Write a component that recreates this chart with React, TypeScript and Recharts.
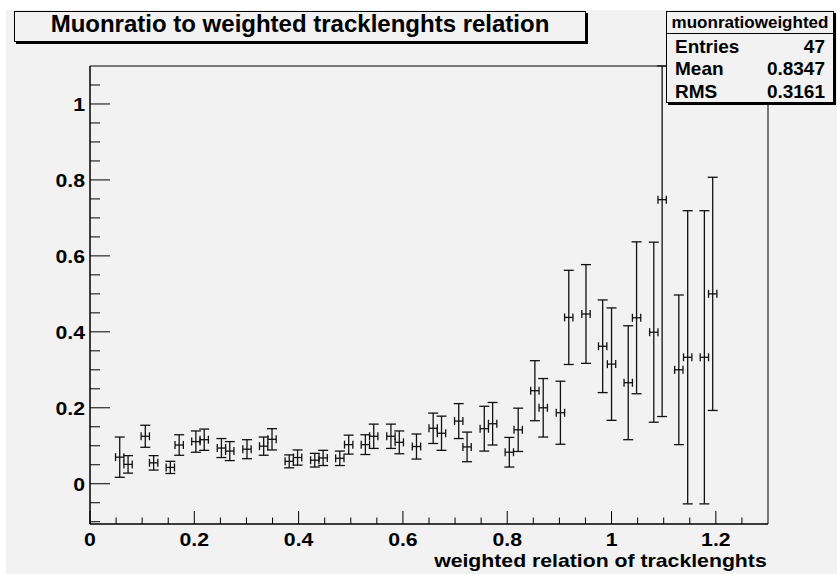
import React from 'react';
import { ComposedChart, Scatter, ErrorBar, XAxis, YAxis, ReferenceArea } from 'recharts';

// bin centres of the filled bins (weighted relation of tracklengths)
const binCenters = [
  0.057, 0.073, 0.106, 0.122, 0.154, 0.171, 0.203, 0.219, 0.252, 0.268,
  0.301, 0.333, 0.349, 0.382, 0.398, 0.431, 0.447, 0.479, 0.496, 0.528,
  0.544, 0.577, 0.593, 0.626, 0.658, 0.674, 0.707, 0.723, 0.756, 0.772,
  0.804, 0.821, 0.853, 0.869, 0.902, 0.918, 0.951, 0.983, 1.0, 1.032,
  1.048, 1.081, 1.097, 1.129, 1.146, 1.178, 1.194,
];

// muon ratio per bin
const ratios = [
  0.07, 0.051, 0.125, 0.055, 0.043, 0.102, 0.111, 0.116, 0.094, 0.086,
  0.091, 0.099, 0.117, 0.059, 0.069, 0.062, 0.068, 0.067, 0.103, 0.103,
  0.125, 0.125, 0.109, 0.098, 0.146, 0.133, 0.165, 0.097, 0.145, 0.158,
  0.083, 0.142, 0.245, 0.2, 0.187, 0.438, 0.447, 0.362, 0.315, 0.266,
  0.437, 0.399, 0.748, 0.3, 0.333, 0.333, 0.5,
];

const ratioErrors = [
  0.053, 0.023, 0.029, 0.019, 0.016, 0.027, 0.028, 0.028, 0.025, 0.025,
  0.025, 0.024, 0.028, 0.017, 0.02, 0.018, 0.02, 0.019, 0.025, 0.026,
  0.032, 0.032, 0.03, 0.033, 0.04, 0.045, 0.046, 0.039, 0.059, 0.056,
  0.039, 0.057, 0.079, 0.077, 0.083, 0.124, 0.13, 0.122, 0.148, 0.15,
  0.2, 0.237, 0.571, 0.197, 0.386, 0.386, 0.307,
];

const binHalfWidth = 0.008;

const xTicks = [
  0, 0.05, 0.1, 0.15, 0.2, 0.25, 0.3, 0.35, 0.4, 0.45, 0.5, 0.55, 0.6,
  0.65, 0.7, 0.75, 0.8, 0.85, 0.9, 0.95, 1, 1.05, 1.1, 1.15, 1.2, 1.25,
];
const xLabels = [0, 0.2, 0.4, 0.6, 0.8, 1, 1.2];

const yTicks = [
  -0.1, -0.05, 0, 0.05, 0.1, 0.15, 0.2, 0.25, 0.3, 0.35, 0.4, 0.45, 0.5,
  0.55, 0.6, 0.65, 0.7, 0.75, 0.8, 0.85, 0.9, 0.95, 1, 1.05,
];
const yLabels = [0, 0.2, 0.4, 0.6, 0.8, 1];

const statRows = [
  ['Entries', '47'],
  ['Mean', '0.8347'],
  ['RMS', '0.3161'],
];

const X_MIN = 0;
const X_MAX = 1.3;
const Y_MIN = -0.106;
const Y_MAX = 1.1;

const points = binCenters.map((x, i) => ({
  x,
  y: ratios[i],
  ey: ratioErrors[i],
  ex: binHalfWidth,
}));

// errors are cut at the frame, like ROOT does (scatter hands over its own point, raw entry is in payload)
const yError = (d: any) => {
  const p = d.payload ?? d;
  return [Math.min(p.ey, p.y - Y_MIN), Math.min(p.ey, Y_MAX - p.y)];
};

const FONT = '"Liberation Sans", Arial, Helvetica, sans-serif';
const STRETCH = 1.18;
const BG = '#f2f2f2';

const XTick = (props: any) => {
  const { x, y, payload } = props;
  const major = xLabels.includes(payload.value);
  return (
    <g>
      <line x1={x} y1={y} x2={x} y2={y - (major ? 13 : 6.5)} stroke="#000" />
      {major && (
        <g transform={`translate(${x},${y + 21.7}) scale(${STRETCH},1)`}>
          <text textAnchor="middle" fontFamily={FONT} fontWeight="bold" fontSize={18} fill="#000">
            {payload.value}
          </text>
        </g>
      )}
    </g>
  );
};

const YTick = (props: any) => {
  const { x, y, payload } = props;
  const major = yLabels.includes(payload.value);
  return (
    <g>
      <line x1={x} y1={y} x2={x + (major ? 20 : 10)} y2={y} stroke="#000" />
      {major && (
        <g transform={`translate(${x - 5},${y + 7.5}) scale(${STRETCH},1)`}>
          <text textAnchor="end" fontFamily={FONT} fontWeight="bold" fontSize={18} fill="#000">
            {payload.value}
          </text>
        </g>
      )}
    </g>
  );
};

const XTitle = (props: any) => {
  const vb = props.viewBox || { x: 90, y: 524, width: 678 };
  return (
    <g transform={`translate(${vb.x + vb.width - 1.3},${vb.y + 42.7}) scale(${STRETCH},1)`}>
      <text textAnchor="end" fontFamily={FONT} fontWeight="bold" fontSize={18} fill="#000">
        weighted relation of tracklenghts
      </text>
    </g>
  );
};

export default function App() {
  return (
    <div style={{ position: 'absolute', left: 0, top: 0, width: 837, height: 574, background: '#fff', overflow: 'hidden' }}>
      <div style={{ position: 'absolute', left: 6, top: 10, right: 0, bottom: 0, background: BG }} />
      <div style={{ position: 'absolute', left: 0, top: 0 }}>
        <ComposedChart
          width={837}
          height={574}
          data={points}
          margin={{ top: 66, right: 69, bottom: 0, left: 0 }}
          style={{ fontFamily: FONT }}
        >
          <ReferenceArea x1={X_MIN} x2={X_MAX} y1={Y_MIN} y2={Y_MAX} fill="none" stroke="#000" strokeWidth={1} ifOverflow="visible" />
          <XAxis
            dataKey="x"
            type="number"
            domain={[X_MIN, X_MAX]}
            ticks={xTicks}
            interval={0}
            tickSize={0}
            tickMargin={0}
            tickLine={false}
            axisLine={{ stroke: '#000' }}
            height={50}
            tick={<XTick />}
            label={{ content: (p: any) => <XTitle viewBox={p.viewBox} /> }}
            allowDataOverflow
          />
          <YAxis
            type="number"
            domain={[Y_MIN, Y_MAX]}
            ticks={yTicks}
            interval={0}
            tickSize={0}
            tickMargin={0}
            tickLine={false}
            axisLine={{ stroke: '#000' }}
            width={90}
            tick={<YTick />}
            allowDataOverflow
          />
          <Scatter dataKey="y" isAnimationActive={false} shape={() => <g />}>
            <ErrorBar dataKey={yError} direction="y" width={5} stroke="#111" strokeWidth={1.3} isAnimationActive={false} />
            <ErrorBar dataKey="ex" direction="x" width={4} stroke="#111" strokeWidth={1.3} isAnimationActive={false} />
          </Scatter>
        </ComposedChart>
      </div>

      <div
        style={{
          position: 'absolute', left: 14, top: 11, width: 572, height: 31, boxSizing: 'border-box',
          border: '1px solid #000', boxShadow: '2px 2px 0 #000', background: BG,
        }}
      >
        <div
          style={{
            position: 'absolute', left: 0, right: 0, top: 0, textAlign: 'center', fontFamily: FONT,
            fontWeight: 'bold', fontSize: 24, lineHeight: '24px', color: '#000', whiteSpace: 'nowrap',
          }}
        >
          Muonratio to weighted tracklenghts relation
        </div>
      </div>

      <div
        style={{
          position: 'absolute', left: 666, top: 11, width: 168, height: 92, boxSizing: 'border-box',
          border: '1px solid #000', boxShadow: '2px 2px 0 #000', background: BG, fontFamily: FONT,
          fontWeight: 'bold', color: '#000',
        }}
      >
        <div style={{ position: 'absolute', left: 0, right: 0, top: 1.9, textAlign: 'center', fontSize: 17, lineHeight: '17px' }}>
          muonratioweighted
        </div>
        <div style={{ position: 'absolute', left: 0, right: 0, top: 21.3, height: 1, background: '#000' }} />
        {statRows.map(([name, value], i) => (
          <div key={name} style={{ position: 'absolute', left: 8, right: 8, top: 24.6 + i * 22.8, fontSize: 19, lineHeight: '19px' }}>
            <span>{name}</span>
            <span style={{ position: 'absolute', right: 0 }}>{value}</span>
          </div>
        ))}
      </div>
    </div>
  );
}
